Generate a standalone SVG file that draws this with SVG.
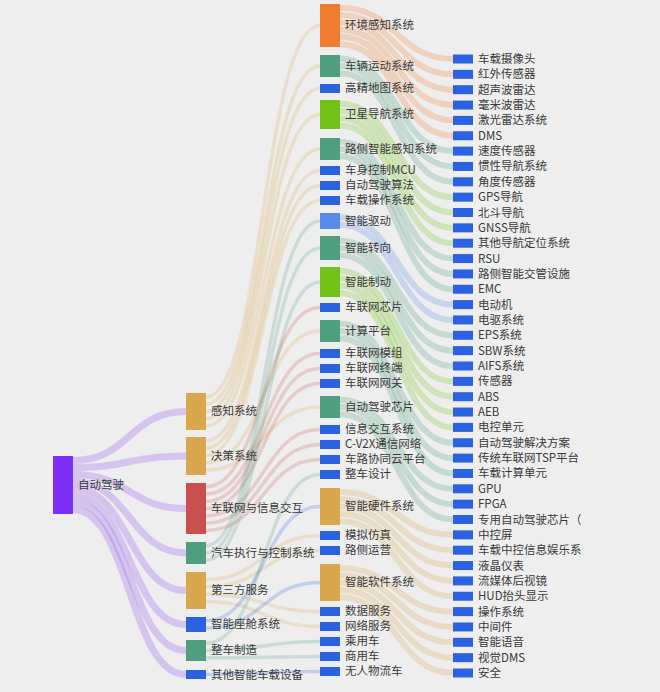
<svg xmlns="http://www.w3.org/2000/svg" width="660" height="692" viewBox="0 0 660 692">
<style>
text{font-family:"Noto Sans CJK SC","Noto Sans",sans-serif;font-size:11.5px;fill:#3a3a3a}
.l{fill:none;stroke-opacity:0.25}
.p{stroke:#8a4cf0;stroke-width:7}
.t{stroke:#d9a84e;stroke-width:3.5;stroke-opacity:0.22}
.r{stroke:#c9504f;stroke-width:3.5;stroke-opacity:0.22}
.g{stroke:#4f9e80;stroke-width:3.5;stroke-opacity:0.22}
.b{stroke:#2b62e0;stroke-width:3.5;stroke-opacity:0.22}
.o{stroke:#f07e30;stroke-width:6}
.lm{stroke:#72c21a;stroke-width:6}
.g2{stroke:#4f9e80;stroke-width:6}
.b2{stroke:#5a8ae8;stroke-width:6}
.t2{stroke:#d9a84e;stroke-width:6}
.cP{fill:#7b2ff7}.cT{fill:#d9a84e}.cR{fill:#c9504f}.cG{fill:#4f9e80}.cB{fill:#2b62e0}.cO{fill:#f07e30}.cL{fill:#72c21a}.cB2{fill:#5a8ae8}
</style>
<rect width="660" height="692" fill="#eeeeee"/>
<g id="links">
<path class="l p" d="M73 460.5C129.5 460.5 129.5 411.5 186 411.5"/>
<path class="l p" d="M73 467.5C129.5 467.5 129.5 456 186 456"/>
<path class="l p" d="M73 474.5C129.5 474.5 129.5 508.5 186 508.5"/>
<path class="l p" d="M73 481.5C129.5 481.5 129.5 553 186 553"/>
<path class="l p" d="M73 488.5C129.5 488.5 129.5 590.5 186 590.5"/>
<path class="l p" d="M73 495.5C129.5 495.5 129.5 624.5 186 624.5"/>
<path class="l p" d="M73 502.5C129.5 502.5 129.5 650.5 186 650.5"/>
<path class="l p" d="M73 509.5C129.5 509.5 129.5 674.5 186 674.5"/>

<path class="l t" d="M206 396.9C263 396.9 263 25.5 320 25.5"/>
<path class="l t" d="M206 404.2C263 404.2 263 66 320 66"/>
<path class="l t" d="M206 411.5C263 411.5 263 88.5 320 88.5"/>
<path class="l t" d="M206 418.8C263 418.8 263 114.5 320 114.5"/>
<path class="l t" d="M206 426.1C263 426.1 263 149 320 149"/>
<path class="l t" d="M206 440.9C263 440.9 263 170.5 320 170.5"/>
<path class="l t" d="M206 448.2C263 448.2 263 185.5 320 185.5"/>
<path class="l t" d="M206 455.5C263 455.5 263 200.5 320 200.5"/>
<path class="l t" d="M206 462.8C263 462.8 263 331 320 331"/>
<path class="l t" d="M206 470.1C263 470.1 263 407 320 407"/>
<path class="l r" d="M206 486.65C263 486.65 263 307.5 320 307.5"/>
<path class="l r" d="M206 493.95C263 493.95 263 353.5 320 353.5"/>
<path class="l r" d="M206 501.25C263 501.25 263 368.5 320 368.5"/>
<path class="l r" d="M206 508.55C263 508.55 263 383.5 320 383.5"/>
<path class="l r" d="M206 515.85C263 515.85 263 429.5 320 429.5"/>
<path class="l r" d="M206 523.15C263 523.15 263 444.5 320 444.5"/>
<path class="l r" d="M206 530.45C263 530.45 263 459.5 320 459.5"/>
<path class="l g" d="M206 545.65C263 545.65 263 221 320 221"/>
<path class="l g" d="M206 552.95C263 552.95 263 248 320 248"/>
<path class="l g" d="M206 560.25C263 560.25 263 282 320 282"/>
<path class="l t" d="M206 579.55C263 579.55 263 535.5 320 535.5"/>
<path class="l t" d="M206 586.85C263 586.85 263 550.5 320 550.5"/>
<path class="l t" d="M206 594.15C263 594.15 263 611.5 320 611.5"/>
<path class="l t" d="M206 601.45C263 601.45 263 626.5 320 626.5"/>
<path class="l b" d="M206 620.85C263 620.85 263 506.5 320 506.5"/>
<path class="l b" d="M206 628.15C263 628.15 263 582.5 320 582.5"/>
<path class="l g" d="M206 643.2C263 643.2 263 474.5 320 474.5"/>
<path class="l g" d="M206 650.5C263 650.5 263 641.5 320 641.5"/>
<path class="l g" d="M206 657.8C263 657.8 263 656.5 320 656.5"/>
<path class="l b" d="M206 674.5C263 674.5 263 671.5 320 671.5"/>

<path class="l o" d="M340 7.65C396.5 7.65 396.5 59 453 59"/>
<path class="l o" d="M340 14.95C396.5 14.95 396.5 74.35 453 74.35"/>
<path class="l o" d="M340 22.25C396.5 22.25 396.5 89.7 453 89.7"/>
<path class="l o" d="M340 29.55C396.5 29.55 396.5 105.05 453 105.05"/>
<path class="l o" d="M340 36.85C396.5 36.85 396.5 120.4 453 120.4"/>
<path class="l o" d="M340 44.15C396.5 44.15 396.5 135.75 453 135.75"/>
<path class="l g2" d="M340 58.65C396.5 58.65 396.5 151.1 453 151.1"/>
<path class="l g2" d="M340 65.95C396.5 65.95 396.5 166.45 453 166.45"/>
<path class="l g2" d="M340 73.25C396.5 73.25 396.5 181.8 453 181.8"/>
<path class="l lm" d="M340 103.65C396.5 103.65 396.5 197.15 453 197.15"/>
<path class="l lm" d="M340 110.95C396.5 110.95 396.5 212.5 453 212.5"/>
<path class="l lm" d="M340 118.25C396.5 118.25 396.5 227.85 453 227.85"/>
<path class="l lm" d="M340 125.55C396.5 125.55 396.5 243.2 453 243.2"/>
<path class="l g2" d="M340 141.65C396.5 141.65 396.5 258.55 453 258.55"/>
<path class="l g2" d="M340 148.95C396.5 148.95 396.5 273.9 453 273.9"/>
<path class="l g2" d="M340 156.25C396.5 156.25 396.5 289.25 453 289.25"/>
<path class="l b2" d="M340 217.35C396.5 217.35 396.5 304.6 453 304.6"/>
<path class="l b2" d="M340 224.65C396.5 224.65 396.5 319.95 453 319.95"/>
<path class="l g2" d="M340 240.7C396.5 240.7 396.5 335.3 453 335.3"/>
<path class="l g2" d="M340 248C396.5 248 396.5 350.65 453 350.65"/>
<path class="l g2" d="M340 255.3C396.5 255.3 396.5 366 453 366"/>
<path class="l lm" d="M340 271.05C396.5 271.05 396.5 381.35 453 381.35"/>
<path class="l lm" d="M340 278.35C396.5 278.35 396.5 396.7 453 396.7"/>
<path class="l lm" d="M340 285.65C396.5 285.65 396.5 412.05 453 412.05"/>
<path class="l lm" d="M340 292.95C396.5 292.95 396.5 427.4 453 427.4"/>
<path class="l g2" d="M340 323.65C396.5 323.65 396.5 442.75 453 442.75"/>
<path class="l g2" d="M340 330.95C396.5 330.95 396.5 458.1 453 458.1"/>
<path class="l g2" d="M340 338.25C396.5 338.25 396.5 473.45 453 473.45"/>
<path class="l g2" d="M340 399.65C396.5 399.65 396.5 488.8 453 488.8"/>
<path class="l g2" d="M340 406.95C396.5 406.95 396.5 504.15 453 504.15"/>
<path class="l g2" d="M340 414.25C396.5 414.25 396.5 519.5 453 519.5"/>
<path class="l t2" d="M340 491.9C396.5 491.9 396.5 534.85 453 534.85"/>
<path class="l t2" d="M340 499.2C396.5 499.2 396.5 550.2 453 550.2"/>
<path class="l t2" d="M340 506.5C396.5 506.5 396.5 565.55 453 565.55"/>
<path class="l t2" d="M340 513.8C396.5 513.8 396.5 580.9 453 580.9"/>
<path class="l t2" d="M340 521.1C396.5 521.1 396.5 596.25 453 596.25"/>
<path class="l t2" d="M340 567.9C396.5 567.9 396.5 611.6 453 611.6"/>
<path class="l t2" d="M340 575.2C396.5 575.2 396.5 626.95 453 626.95"/>
<path class="l t2" d="M340 582.5C396.5 582.5 396.5 642.3 453 642.3"/>
<path class="l t2" d="M340 589.8C396.5 589.8 396.5 657.65 453 657.65"/>
<path class="l t2" d="M340 597.1C396.5 597.1 396.5 673 453 673"/>
</g>

<g id="n0"><rect class="cP" x="53" y="456" width="20" height="58"/><text x="78" y="489">自动驾驶</text></g>

<g id="n1a"><rect class="cT" x="186" y="393" width="20" height="37"/><text x="211" y="415">感知系统</text></g>
<g id="n1b"><rect class="cT" x="186" y="437" width="20" height="38"/><text x="211" y="460">决策系统</text></g>
<g id="n1c"><rect class="cR" x="186" y="483" width="20" height="51"/><text x="211" y="512">车联网与信息交互</text></g>
<g id="n1d"><rect class="cG" x="186" y="542" width="20" height="22"/><text x="211" y="557">汽车执行与控制系统</text></g>
<g id="n1e"><rect class="cT" x="186" y="572" width="20" height="37"/><text x="211" y="594">第三方服务</text></g>
<g id="n1f"><rect class="cB" x="186" y="617" width="20" height="15"/><text x="211" y="628">智能座舱系统</text></g>
<g id="n1g"><rect class="cG" x="186" y="640" width="20" height="21"/><text x="211" y="654">整车制造</text></g>
<g id="n1h"><rect class="cB" x="186" y="670" width="20" height="9"/><text x="211" y="678.5">其他智能车载设备</text></g>

<g id="n2a"><rect class="cO" x="320" y="4" width="20" height="43"/><text x="345" y="29">环境感知系统</text></g>
<g id="n2b"><rect class="cG" x="320" y="55" width="20" height="22"/><text x="345" y="70">车辆运动系统</text></g>
<g id="n2c"><rect class="cB" x="320" y="84" width="20" height="9"/><text x="345" y="92">高精地图系统</text></g>
<g id="n2d"><rect class="cL" x="320" y="100" width="20" height="29"/><text x="345" y="118">卫星导航系统</text></g>
<g id="n2e"><rect class="cG" x="320" y="138" width="20" height="22"/><text x="345" y="153">路侧智能感知系统</text></g>
<g id="n2f"><rect class="cB" x="320" y="166" width="20" height="9"/><text x="345" y="174">车身控制MCU</text></g>
<g id="n2g"><rect class="cB" x="320" y="181" width="20" height="9"/><text x="345" y="189">自动驾驶算法</text></g>
<g id="n2h"><rect class="cB" x="320" y="196" width="20" height="9"/><text x="345" y="204">车载操作系统</text></g>
<g id="n2i"><rect class="cB2" x="320" y="213" width="20" height="16"/><text x="345" y="225">智能驱动</text></g>
<g id="n2j"><rect class="cG" x="320" y="236" width="20" height="24"/><text x="345" y="252">智能转向</text></g>
<g id="n2k"><rect class="cL" x="320" y="267" width="20" height="30"/><text x="345" y="286">智能制动</text></g>
<g id="n2l"><rect class="cB" x="320" y="303" width="20" height="9"/><text x="345" y="311">车联网芯片</text></g>
<g id="n2m"><rect class="cG" x="320" y="320" width="20" height="22"/><text x="345" y="335">计算平台</text></g>
<g id="n2n"><rect class="cB" x="320" y="349" width="20" height="9"/><text x="345" y="357">车联网模组</text></g>
<g id="n2o"><rect class="cB" x="320" y="364" width="20" height="9"/><text x="345" y="372">车联网终端</text></g>
<g id="n2p"><rect class="cB" x="320" y="379" width="20" height="9"/><text x="345" y="387">车联网网关</text></g>
<g id="n2q"><rect class="cG" x="320" y="396" width="20" height="22"/><text x="345" y="411">自动驾驶芯片</text></g>
<g id="n2r"><rect class="cB" x="320" y="425" width="20" height="9"/><text x="345" y="433">信息交互系统</text></g>
<g id="n2s"><rect class="cB" x="320" y="440" width="20" height="9"/><text x="345" y="448">C-V2X通信网络</text></g>
<g id="n2t"><rect class="cB" x="320" y="455" width="20" height="9"/><text x="345" y="463">车路协同云平台</text></g>
<g id="n2u"><rect class="cB" x="320" y="470" width="20" height="9"/><text x="345" y="478">整车设计</text></g>
<g id="n2v"><rect class="cT" x="320" y="488" width="20" height="37"/><text x="345" y="510">智能硬件系统</text></g>
<g id="n2w"><rect class="cB" x="320" y="531" width="20" height="9"/><text x="345" y="539">模拟仿真</text></g>
<g id="n2x"><rect class="cB" x="320" y="546" width="20" height="9"/><text x="345" y="554">路侧运营</text></g>
<g id="n2y"><rect class="cT" x="320" y="564" width="20" height="37"/><text x="345" y="586">智能软件系统</text></g>
<g id="n2z"><rect class="cB" x="320" y="607" width="20" height="9"/><text x="345" y="615">数据服务</text></g>
<g id="n2aa"><rect class="cB" x="320" y="622" width="20" height="9"/><text x="345" y="630">网络服务</text></g>
<g id="n2ab"><rect class="cB" x="320" y="637" width="20" height="9"/><text x="345" y="645">乘用车</text></g>
<g id="n2ac"><rect class="cB" x="320" y="652" width="20" height="9"/><text x="345" y="660">商用车</text></g>
<g id="n2ad"><rect class="cB" x="320" y="667" width="20" height="9"/><text x="345" y="675">无人物流车</text></g>

<g id="n3" class="cB">
<g id="n3-0"><rect x="453" y="54.5" width="20" height="9"/><text x="478" y="63">车载摄像头</text></g>
<g id="n3-1"><rect x="453" y="69.85" width="20" height="9"/><text x="478" y="78.35">红外传感器</text></g>
<g id="n3-2"><rect x="453" y="85.2" width="20" height="9"/><text x="478" y="93.7">超声波雷达</text></g>
<g id="n3-3"><rect x="453" y="100.55" width="20" height="9"/><text x="478" y="109.05">毫米波雷达</text></g>
<g id="n3-4"><rect x="453" y="115.9" width="20" height="9"/><text x="478" y="124.4">激光雷达系统</text></g>
<g id="n3-5"><rect x="453" y="131.25" width="20" height="9"/><text x="478" y="139.75">DMS</text></g>
<g id="n3-6"><rect x="453" y="146.6" width="20" height="9"/><text x="478" y="155.1">速度传感器</text></g>
<g id="n3-7"><rect x="453" y="161.95" width="20" height="9"/><text x="478" y="170.45">惯性导航系统</text></g>
<g id="n3-8"><rect x="453" y="177.3" width="20" height="9"/><text x="478" y="185.8">角度传感器</text></g>
<g id="n3-9"><rect x="453" y="192.65" width="20" height="9"/><text x="478" y="201.15">GPS导航</text></g>
<g id="n3-10"><rect x="453" y="208" width="20" height="9"/><text x="478" y="216.5">北斗导航</text></g>
<g id="n3-11"><rect x="453" y="223.35" width="20" height="9"/><text x="478" y="231.85">GNSS导航</text></g>
<g id="n3-12"><rect x="453" y="238.7" width="20" height="9"/><text x="478" y="247.2">其他导航定位系统</text></g>
<g id="n3-13"><rect x="453" y="254.05" width="20" height="9"/><text x="478" y="262.55">RSU</text></g>
<g id="n3-14"><rect x="453" y="269.4" width="20" height="9"/><text x="478" y="277.9">路侧智能交管设施</text></g>
<g id="n3-15"><rect x="453" y="284.75" width="20" height="9"/><text x="478" y="293.25">EMC</text></g>
<g id="n3-16"><rect x="453" y="300.1" width="20" height="9"/><text x="478" y="308.6">电动机</text></g>
<g id="n3-17"><rect x="453" y="315.45" width="20" height="9"/><text x="478" y="323.95">电驱系统</text></g>
<g id="n3-18"><rect x="453" y="330.8" width="20" height="9"/><text x="478" y="339.3">EPS系统</text></g>
<g id="n3-19"><rect x="453" y="346.15" width="20" height="9"/><text x="478" y="354.65">SBW系统</text></g>
<g id="n3-20"><rect x="453" y="361.5" width="20" height="9"/><text x="478" y="370">AIFS系统</text></g>
<g id="n3-21"><rect x="453" y="376.85" width="20" height="9"/><text x="478" y="385.35">传感器</text></g>
<g id="n3-22"><rect x="453" y="392.2" width="20" height="9"/><text x="478" y="400.7">ABS</text></g>
<g id="n3-23"><rect x="453" y="407.55" width="20" height="9"/><text x="478" y="416.05">AEB</text></g>
<g id="n3-24"><rect x="453" y="422.9" width="20" height="9"/><text x="478" y="431.4">电控单元</text></g>
<g id="n3-25"><rect x="453" y="438.25" width="20" height="9"/><text x="478" y="446.75">自动驾驶解决方案</text></g>
<g id="n3-26"><rect x="453" y="453.6" width="20" height="9"/><text x="478" y="462.1">传统车联网TSP平台</text></g>
<g id="n3-27"><rect x="453" y="468.95" width="20" height="9"/><text x="478" y="477.45">车载计算单元</text></g>
<g id="n3-28"><rect x="453" y="484.3" width="20" height="9"/><text x="478" y="492.8">GPU</text></g>
<g id="n3-29"><rect x="453" y="499.65" width="20" height="9"/><text x="478" y="508.15">FPGA</text></g>
<g id="n3-30"><rect x="453" y="515" width="20" height="9"/><text x="478" y="523.5">专用自动驾驶芯片（</text></g>
<g id="n3-31"><rect x="453" y="530.35" width="20" height="9"/><text x="478" y="538.85">中控屏</text></g>
<g id="n3-32"><rect x="453" y="545.7" width="20" height="9"/><text x="478" y="554.2">车载中控信息娱乐系</text></g>
<g id="n3-33"><rect x="453" y="561.05" width="20" height="9"/><text x="478" y="569.55">液晶仪表</text></g>
<g id="n3-34"><rect x="453" y="576.4" width="20" height="9"/><text x="478" y="584.9">流媒体后视镜</text></g>
<g id="n3-35"><rect x="453" y="591.75" width="20" height="9"/><text x="478" y="600.25">HUD抬头显示</text></g>
<g id="n3-36"><rect x="453" y="607.1" width="20" height="9"/><text x="478" y="615.6">操作系统</text></g>
<g id="n3-37"><rect x="453" y="622.45" width="20" height="9"/><text x="478" y="630.95">中间件</text></g>
<g id="n3-38"><rect x="453" y="637.8" width="20" height="9"/><text x="478" y="646.3">智能语音</text></g>
<g id="n3-39"><rect x="453" y="653.15" width="20" height="9"/><text x="478" y="661.65">视觉DMS</text></g>
<g id="n3-40"><rect x="453" y="668.5" width="20" height="9"/><text x="478" y="677">安全</text></g>
</g>
</svg>
